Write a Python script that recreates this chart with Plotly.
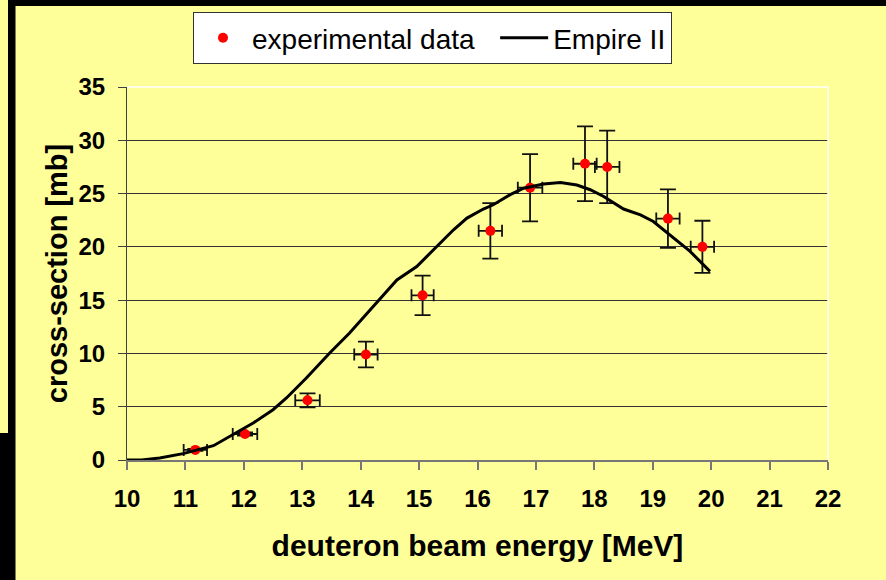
import plotly.graph_objects as go

# Measured cross-sections (deuteron beam energy in MeV, cross-section in mb)
exp_energy = [11.17, 12.02, 13.09, 14.09, 15.06, 16.22, 16.90, 17.84, 18.22, 19.26, 19.85]
exp_sigma = [0.95, 2.44, 5.6, 9.9, 15.45, 21.5, 25.55, 27.8, 27.5, 22.65, 20.0]
exp_sigma_err = [0.1, 0.15, 0.65, 1.2, 1.85, 2.6, 3.15, 3.5, 3.4, 2.75, 2.45]
exp_energy_err = [0.2, 0.21, 0.21, 0.2, 0.19, 0.2, 0.21, 0.2, 0.21, 0.2, 0.2]

# Empire II model calculation
model_energy = [10.0, 10.25, 10.56, 10.96, 11.48, 11.82, 12.16, 12.5, 12.73, 13.07,
                13.47, 13.81, 14.16, 14.62, 14.96, 15.3, 15.59, 15.82, 16.1, 16.27,
                16.56, 16.79, 17.13, 17.42, 17.7, 17.93, 18.16, 18.5, 18.79, 19.01,
                19.3, 19.64, 19.98]
model_sigma = [0.0, 0.0, 0.19, 0.6, 1.34, 2.37, 3.47, 4.72, 5.82, 7.69,
               10.04, 11.91, 14.1, 16.9, 18.16, 20.04, 21.6, 22.7, 23.55, 23.95,
               24.9, 25.5, 25.9, 26.04, 25.8, 25.36, 24.73, 23.55, 23.0, 22.38,
               21.1, 19.57, 17.7]

x_ticks = list(range(10, 23))
y_ticks = list(range(0, 36, 5))

W, H = 886, 580
L, R, T, B = 127, 58, 87, 120
PW, PH = W - L - R, H - T - B
BG = "#FFFF99"
FONT = "Arial, Liberation Sans, sans-serif"


def px(x):
    return (x - L) / PW


def py(y):
    return (H - B - y) / PH


fig = go.Figure()

fig.add_trace(go.Scatter(
    x=exp_energy, y=exp_sigma, mode="markers", name="experimental data  ",
    marker=dict(color="#FF0000", size=10),
    error_y=dict(type="data", array=exp_sigma_err, color="#111111", thickness=1.8, width=8),
    error_x=dict(type="data", array=exp_energy_err, color="#111111", thickness=1.8, width=6),
))

fig.add_trace(go.Scatter(
    x=model_energy, y=model_sigma, mode="lines", name="Empire II",
    line=dict(color="#000000", width=3),
))

shapes = [
    # dark frame around the slide
    dict(type="rect", xref="paper", yref="paper", x0=px(8), x1=px(W), y0=py(6), y1=py(0),
         fillcolor="#000000", line=dict(width=0), layer="above"),
    dict(type="rect", xref="paper", yref="paper", x0=px(8), x1=px(15.5), y0=py(433), y1=py(0),
         fillcolor="#000000", line=dict(width=0), layer="above"),
    dict(type="rect", xref="paper", yref="paper", x0=px(0), x1=px(15.5), y0=py(H), y1=py(433),
         fillcolor="#000000", line=dict(width=0), layer="above"),
    # white plot-area border on top and right
    dict(type="line", xref="paper", yref="paper", x0=0, x1=1, y0=1, y1=1,
         line=dict(color="#FFFFFF", width=1.5)),
    dict(type="line", xref="paper", yref="paper", x0=1, x1=1, y0=0, y1=1,
         line=dict(color="#FFFFFF", width=1.5)),
]

fig.update_layout(
    width=W, height=H,
    margin=dict(l=L, r=R, t=T, b=B, autoexpand=False),
    paper_bgcolor=BG, plot_bgcolor=BG,
    font=dict(family=FONT, color="#000000"),
    shapes=shapes,
    showlegend=True,
    legend=dict(
        orientation="h", x=px(193), y=py(12), xanchor="left", yanchor="top",
        bgcolor="#FFFFFF", bordercolor="#333333", borderwidth=1,
        font=dict(family=FONT, size=28, color="#000000"),
        itemwidth=48, itemclick=False,
    ),
    xaxis=dict(
        range=[10, 22], tickvals=x_ticks, ticktext=[str(v) for v in x_ticks],
        showgrid=False, zeroline=False,
        showline=True, linecolor="#777777", linewidth=1.5,
        ticks="outside", ticklen=8, tickcolor="#777777", tickwidth=1.5,
        tickfont=dict(family=FONT, size=24, color="#000000", weight="bold"),
        ticklabelstandoff=8,
        title=dict(text="<b>deuteron beam energy [MeV]</b>", standoff=24,
                   font=dict(family=FONT, size=30, color="#000000")),
    ),
    yaxis=dict(
        range=[0, 35], tickvals=y_ticks, ticktext=[str(v) for v in y_ticks],
        showgrid=True, gridcolor="#333333", gridwidth=1, zeroline=False,
        showline=True, linecolor="#404040", linewidth=1,
        ticks="outside", ticklen=8, tickcolor="#404040", tickwidth=1,
        tickfont=dict(family=FONT, size=24, color="#000000", weight="bold"),
        ticklabelstandoff=8,
        title=dict(text="<b>cross-section [mb]</b>", standoff=2,
                   font=dict(family=FONT, size=29, color="#000000")),
    ),
)

fig.write_html("out.html")
